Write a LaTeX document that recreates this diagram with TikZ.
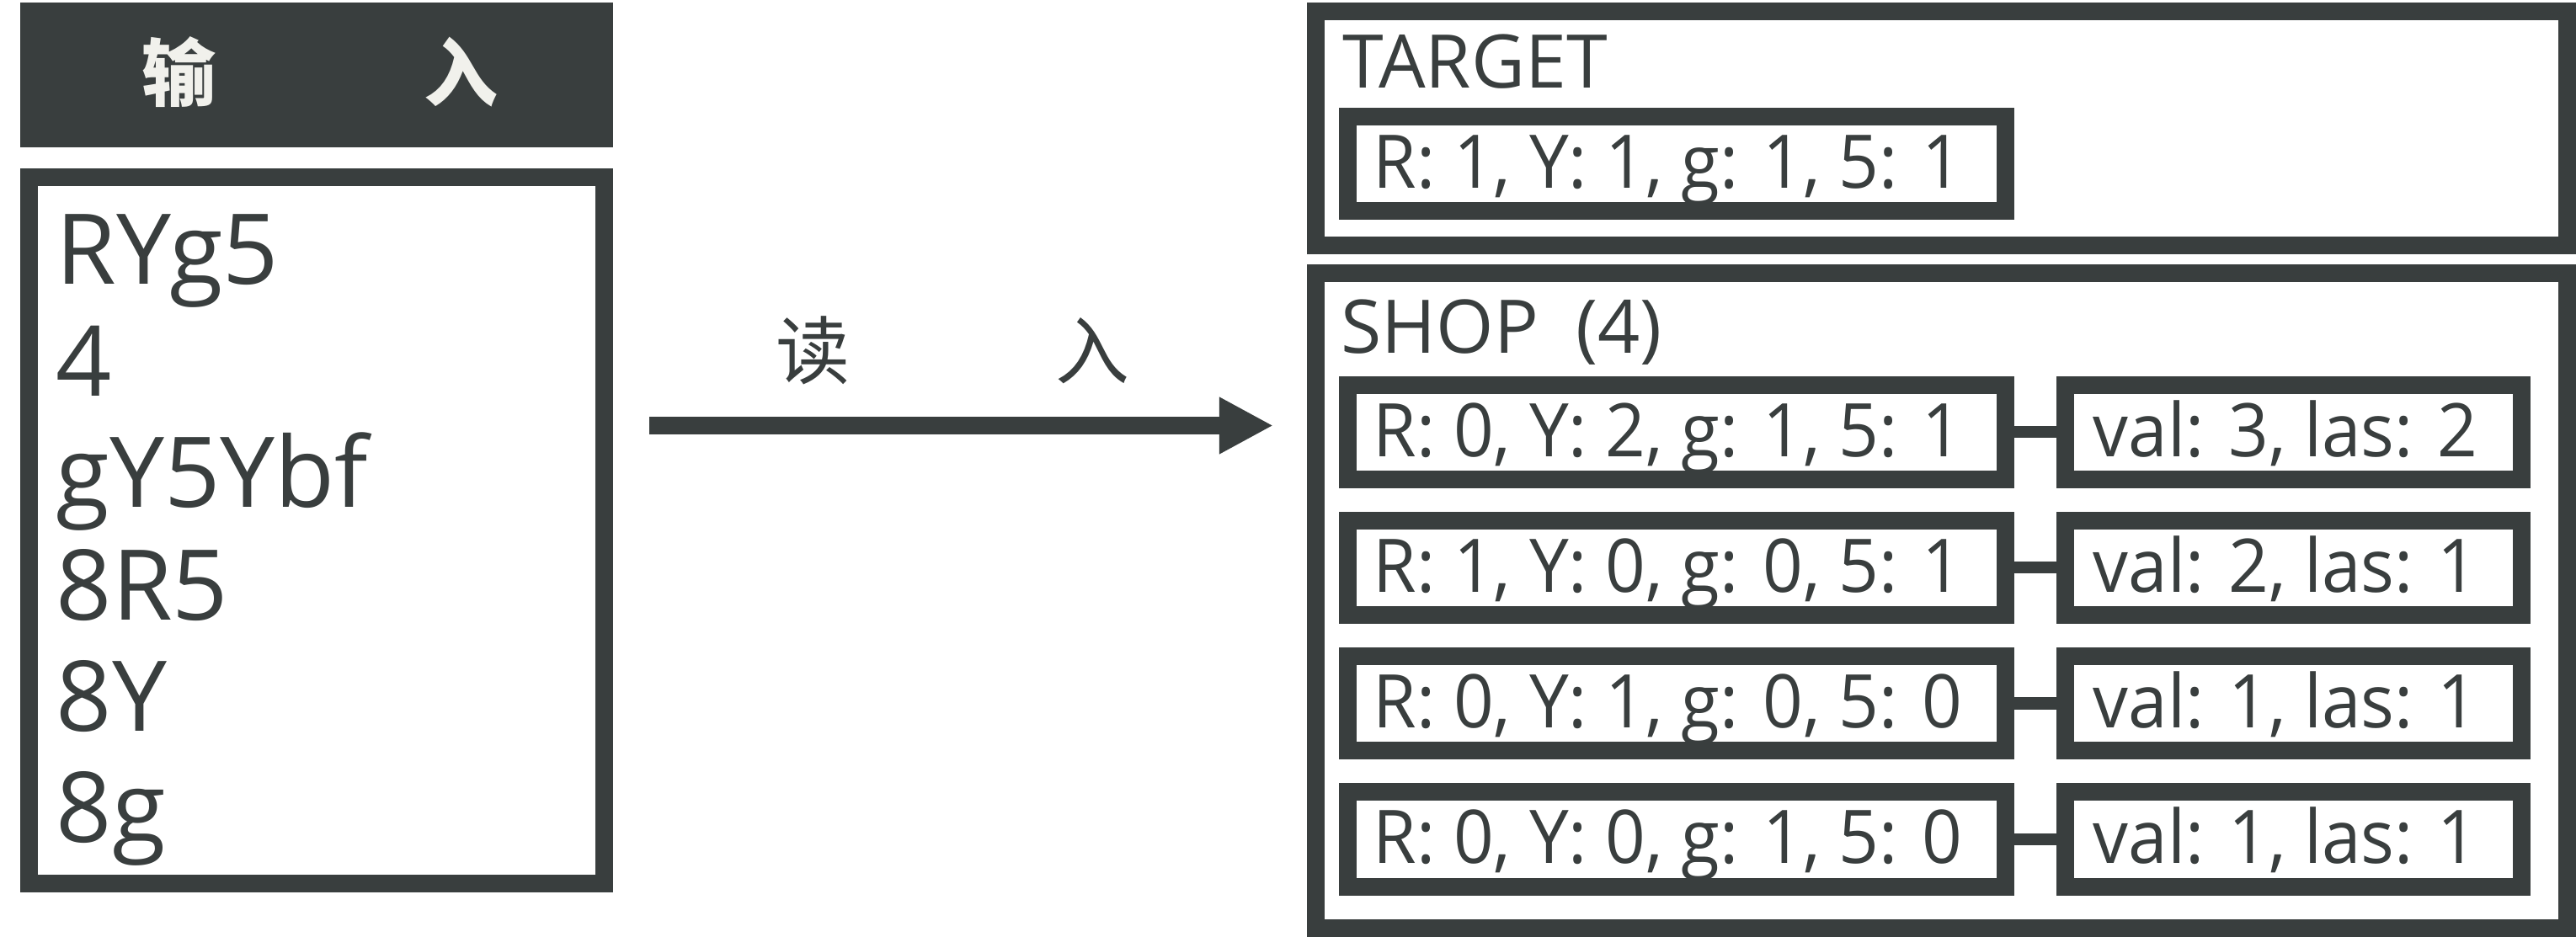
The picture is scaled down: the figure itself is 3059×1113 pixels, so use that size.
\documentclass[tikz,border=0pt]{standalone}
\usepackage{fontspec}
\setmainfont{Open Sans}
\newfontfamily\narrowfont[FakeStretch=0.95]{Open Sans}
\newfontfamily\cjk{Noto Sans CJK SC}
\usetikzlibrary{arrows.meta}
\definecolor{ink}{RGB}{57,62,62}
\definecolor{paper}{RGB}{241,241,236}
\begin{document}
\begin{tikzpicture}[x=0.01cm,y=-0.01cm,
  frame/.style={draw=ink, line width=0.21cm, inner sep=0pt},
  rowbox/.style={frame, minimum width=7.81cm, minimum height=1.12cm},
  valbox/.style={frame, minimum width=5.42cm, minimum height=1.12cm},
  title/.style={inner sep=0pt, anchor=base west, text=ink, font=\fontsize{25}{30}\selectfont},
  txt/.style={inner sep=0pt, anchor=base west, text=ink, font=\narrowfont\fontsize{25}{30}\selectfont},
  bigtxt/.style={inner sep=0pt, anchor=base west, text=ink, font=\fontsize{33}{40}\selectfont},
  cjktxt/.style={inner sep=0pt, anchor=base, font=\cjk\fontsize{25}{30}\selectfont},
  link/.style={draw=ink, line width=0.14cm}]
\useasboundingbox (0,0) rectangle (3059,1113);

% left: header and input
\node[fill=ink, inner sep=0pt, minimum width=7.04cm, minimum height=1.72cm] (head) at (376,89) {};
\node[cjktxt, text=paper, font=\cjk\bfseries\fontsize{25}{30}\selectfont] (h1) at (212,120) {输};
\node[cjktxt, text=paper, font=\cjk\bfseries\fontsize{25}{30}\selectfont] (h2) at (547,120) {入};
\node[frame, minimum width=6.83cm, minimum height=8.39cm] (inbox) at (376,630) {};
\node[bigtxt] (i1) at (66,338) {RYg5};
\node[bigtxt] (i2) at (66,471) {4};
\node[bigtxt] (i3) at (66,603) {gY5Ybf};
\node[bigtxt] (i4) at (66,737) {8R5};
\node[bigtxt] (i5) at (66,869) {8Y};
\node[bigtxt] (i6) at (66,1001) {8g};

% arrow
\coordinate (aS) at (771,505.5);
\coordinate (aE) at (1512,505.5);
\draw[ink, line width=0.21cm, -{Triangle[length=0.64cm,width=0.63cm]}] (aS) -- (aE);
\node[cjktxt, text=ink] (r1) at (965,450) {读};
\node[cjktxt, text=ink] (r2) at (1297,450) {入};

% target
\node[frame, minimum width=14.86cm, minimum height=2.78cm] (target) at (2305.5,152.5) {};
\node[title] (tt) at (1594,105) {TARGET};
\node[rowbox] (T) at (1991,194.5) {};
\node[txt] (tv) at (1630,224) {R: 1, Y: 1, g: 1, 5: 1};

% shop
\node[frame, minimum width=14.86cm, minimum height=7.78cm] (shop) at (2305.5,713.5) {};
\node[title] (st) at (1592,420) {SHOP\hspace{0.5em}(4)};

\node[rowbox] (L1) at (1991,513.5) {};
\node[valbox] (V1) at (2723.5,513.5) {};
\node[rowbox] (L2) at (1991,674.5) {};
\node[valbox] (V2) at (2723.5,674.5) {};
\node[rowbox] (L3) at (1991,835.5) {};
\node[valbox] (V3) at (2723.5,835.5) {};
\node[rowbox] (L4) at (1991,997) {};
\node[valbox] (V4) at (2723.5,997) {};

\node[txt] (l1) at (1630,542.5) {R: 0, Y: 2, g: 1, 5: 1};
\node[txt] (v1) at (2485,542.5) {val: 3, las: 2};
\node[txt] (l2) at (1630,703.5) {R: 1, Y: 0, g: 0, 5: 1};
\node[txt] (v2) at (2485,703.5) {val: 2, las: 1};
\node[txt] (l3) at (1630,864.5) {R: 0, Y: 1, g: 0, 5: 0};
\node[txt] (v3) at (2485,864.5) {val: 1, las: 1};
\node[txt] (l4) at (1630,1026) {R: 0, Y: 0, g: 1, 5: 0};
\node[txt] (v4) at (2485,1026) {val: 1, las: 1};

\draw[link] (L1.east) -- (V1.west);
\draw[link] (L2.east) -- (V2.west);
\draw[link] (L3.east) -- (V3.west);
\draw[link] (L4.east) -- (V4.west);
\end{tikzpicture}
\end{document}
